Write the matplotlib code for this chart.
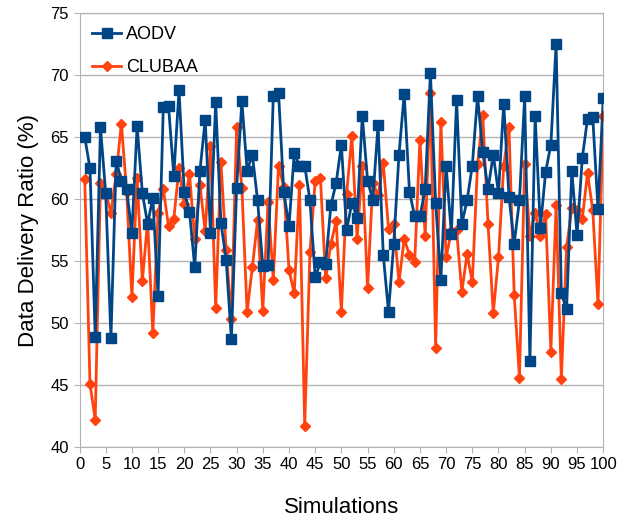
import numpy as np
import matplotlib
matplotlib.use('Agg')
import matplotlib.pyplot as plt

plt.rcParams['font.family'] = ['Liberation Sans Narrow', 'Liberation Sans', 'DejaVu Sans']

# data
simulations = list(range(1, 101))
aodv = [65.0, 62.5, 48.9, 65.8, 60.5, 48.8, 63.1, 61.5, 60.8, 57.3,
        65.9, 60.5, 58.0, 60.1, 52.2, 67.4, 67.5, 61.9, 68.8, 60.6,
        59.0, 54.5, 62.3, 66.4, 57.3, 67.8, 58.1, 55.1, 48.7, 60.9,
        67.9, 62.3, 63.6, 59.9, 54.6, 54.7, 68.3, 68.6, 60.6, 57.8,
        63.7, 62.7, 62.7, 59.9, 53.7, 54.9, 54.8, 59.5, 61.3, 64.4,
        57.5, 59.7, 58.5, 66.7, 61.5, 59.9, 66.0, 55.5, 50.9, 56.4,
        63.6, 68.5, 60.6, 58.6, 58.6, 60.8, 70.2, 59.7, 53.5, 62.7,
        57.2, 68.0, 58.0, 59.9, 62.7, 68.3, 63.8, 60.8, 63.6, 60.5,
        67.7, 60.2, 56.4, 59.9, 68.3, 46.9, 66.7, 57.7, 62.2, 64.4,
        72.5, 52.4, 51.1, 62.3, 57.1, 63.3, 66.5, 66.6, 59.2, 68.2]
clubaa = [61.6, 45.1, 42.2, 61.3, 60.5, 58.9, 62.0, 66.1, 60.6, 52.1,
          61.7, 53.4, 58.2, 49.2, 58.9, 60.8, 57.8, 58.4, 62.5, 59.6,
          62.0, 56.8, 61.1, 57.4, 64.3, 51.2, 63.0, 55.9, 50.3, 65.8,
          60.9, 50.9, 54.5, 58.3, 51.0, 59.8, 53.5, 62.7, 61.0, 54.3,
          52.4, 61.1, 41.7, 55.7, 61.5, 61.7, 53.6, 56.4, 58.2, 50.9,
          60.4, 65.1, 56.8, 62.7, 52.8, 61.3, 60.3, 62.9, 57.6, 58.0,
          53.3, 56.8, 55.5, 54.9, 64.8, 57.0, 68.6, 48.0, 66.2, 55.3,
          57.4, 57.5, 52.5, 55.6, 53.3, 62.8, 66.8, 58.0, 50.8, 55.3,
          62.7, 65.8, 52.3, 45.6, 62.8, 57.0, 58.9, 57.0, 58.8, 47.7,
          59.5, 45.5, 56.1, 59.3, 59.1, 58.4, 62.1, 59.1, 51.5, 66.7]

fig, ax = plt.subplots(figsize=(6.31, 5.29), dpi=100)
fig.subplots_adjust(left=0.126, right=0.956, top=0.975, bottom=0.155)

ax.plot(simulations, aodv, color='#004586', linewidth=2.0, marker='s',
        markersize=7, label='AODV', zorder=4)
ax.plot(simulations, clubaa, color='#ff420e', linewidth=2.0, marker='D',
        markersize=5, label='CLUBAA', zorder=3)

ax.set_xlim(0, 100)
ax.set_ylim(40, 75)
ax.set_xticks(np.arange(0, 101, 5))
ax.set_yticks(np.arange(40, 76, 5))
ax.tick_params(axis='both', labelsize=12, length=4, color='#b3b3b3', direction='out')
ax.yaxis.grid(True, color='#b3b3b3', linewidth=1)
ax.set_axisbelow(True)
for side in ['top', 'right', 'left', 'bottom']:
    ax.spines[side].set_color('#b3b3b3')

ax.set_xlabel('Simulations', fontsize=16, labelpad=18)
ax.set_ylabel('Data Delivery Ratio (%)', fontsize=16, labelpad=8)

ax.legend(loc='upper left', frameon=False, fontsize=13, handlelength=1.6,
          handletextpad=0.3, labelspacing=0.9, borderaxespad=0.3)

plt.savefig('out.png', dpi=100)
